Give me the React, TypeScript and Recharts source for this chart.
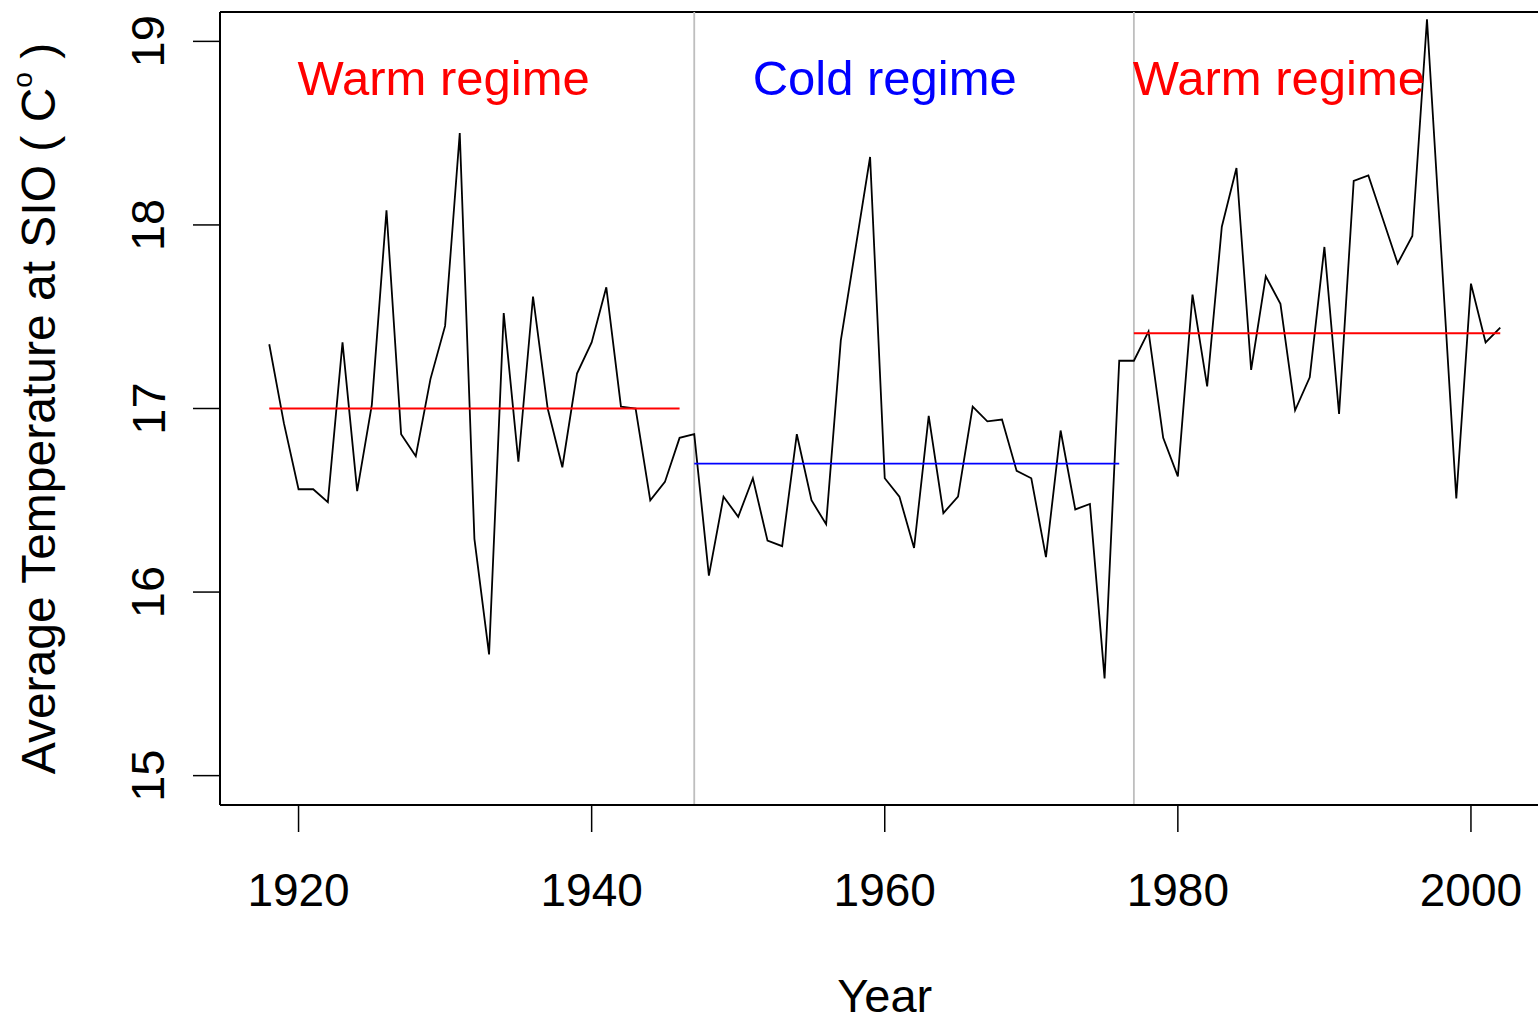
import React from 'react';
import { LineChart, Line, XAxis, YAxis, ReferenceLine, ReferenceDot, Label } from 'recharts';

const years = [
  1918, 1919, 1920, 1921, 1922, 1923, 1924, 1925, 1926, 1927, 1928, 1929, 1930, 1931, 1932, 1933, 1934,
  1935, 1936, 1937, 1938, 1939, 1940, 1941, 1942, 1943, 1944, 1945, 1946, 1947, 1948, 1949, 1950, 1951,
  1952, 1953, 1954, 1955, 1956, 1957, 1958, 1959, 1960, 1961, 1962, 1963, 1964, 1965, 1966, 1967, 1968,
  1969, 1970, 1971, 1972, 1973, 1974, 1975, 1976, 1977, 1978, 1979, 1980, 1981, 1982, 1983, 1984, 1985,
  1986, 1987, 1988, 1989, 1990, 1991, 1992, 1993, 1994, 1995, 1996, 1997, 1998, 1999, 2000, 2001, 2002,
];

const temps = [
  17.35, 16.92, 16.56, 16.56, 16.49, 17.36, 16.55, 17.02, 18.08, 16.86, 16.74, 17.16, 17.45, 18.5, 16.29, 15.66, 17.52,
  16.71, 17.61, 17.0, 16.68, 17.19, 17.36, 17.66, 17.01, 17.0, 16.5, 16.6, 16.84, 16.86, 16.09, 16.52, 16.41, 16.62,
  16.28, 16.25, 16.86, 16.5, 16.37, 17.37, 17.87, 18.37, 16.62, 16.52, 16.24, 16.96, 16.43, 16.52, 17.01, 16.93, 16.94,
  16.66, 16.62, 16.19, 16.88, 16.45, 16.48, 15.53, 17.26, 17.26, 17.42, 16.84, 16.63, 17.62, 17.12, 17.99, 18.31, 17.21,
  17.72, 17.57, 16.99, 17.17, 17.88, 16.97, 18.24, 18.27, 18.03, 17.79, 17.94, 19.12, 17.82, 16.51, 17.68, 17.36, 17.44,
];

const xTicks = [1920, 1940, 1960, 1980, 2000];
const yTicks = [15, 16, 17, 18, 19];

const regimeNames = ['Warm regime', 'Cold regime', 'Warm regime'];
const regimeColors = ['#FF0000', '#0000FF', '#FF0000'];
const regimeStart = [1918, 1947, 1977];
const regimeEnd = [1946, 1976, 2002];
const regimeMean = [17.0, 16.7, 17.41];
const regimeLabelX = [1929.9, 1960, 1986.9];
const regimeLabelY = 18.8;
const breakYears = [1947, 1977];

const X_DOMAIN: [number, number] = [1914.64, 2005.36];
const Y_DOMAIN: [number, number] = [14.84, 19.16];

const FONT = '"Liberation Sans", Arial, Helvetica, sans-serif';

const data = years.map((y, i) => ({ year: y, temp: temps[i] }));

const XTick = (props: any) => {
  const { x, y, payload } = props;
  return (
    <text x={x} y={y + 58} textAnchor="middle" dominantBaseline="central" fontSize={46} fontFamily={FONT} fill="#000">
      {payload.value}
    </text>
  );
};

const YTick = (props: any) => {
  const { x, y, payload } = props;
  const cx = x - 45;
  return (
    <text
      x={cx}
      y={y}
      transform={`rotate(-90 ${cx} ${y})`}
      textAnchor="middle"
      dominantBaseline="central"
      fontSize={47}
      fontFamily={FONT}
      fill="#000"
    >
      {payload.value}
    </text>
  );
};

const YearLabel = (props: any) => {
  const vb = props.viewBox || { x: 220, y: 805, width: 1329, height: 213 };
  return (
    <text x={vb.x + vb.width / 2} y={vb.y + 207} textAnchor="middle" fontSize={47} fontFamily={FONT} fill="#000">
      Year
    </text>
  );
};

const TempLabel = (props: any) => {
  const vb = props.viewBox || { x: 0, y: 12, width: 220, height: 793 };
  const cx = vb.x + 38;
  const cy = vb.y + vb.height / 2;
  return (
    <text
      x={cx}
      y={cy}
      transform={`rotate(-90 ${cx} ${cy})`}
      textAnchor="middle"
      dominantBaseline="central"
      fontSize={48}
      fontFamily={FONT}
      fill="#000"
    >
      Average Temperature at SIO ( C
      <tspan dy={-16} fontSize={28}>o</tspan>
      <tspan dy={16}> )</tspan>
    </text>
  );
};

export default function App() {
  return (
    <div
      style={{
        position: 'fixed',
        left: 0,
        top: 0,
        width: 1538,
        height: 1018,
        overflow: 'hidden',
        background: '#fff',
      }}
    >
      <LineChart width={1560} height={1018} data={data} margin={{ top: 12, right: 10.5, bottom: 0, left: 0 }}>
        <XAxis
          dataKey="year"
          type="number"
          domain={X_DOMAIN}
          ticks={xTicks}
          interval={0}
          allowDataOverflow
          height={213}
          tickSize={27}
          tickMargin={0}
          tickLine={{ stroke: '#000', strokeWidth: 1.5 }}
          axisLine={{ stroke: '#000', strokeWidth: 2 }}
          tick={<XTick />}
        >
          <Label content={YearLabel} />
        </XAxis>
        <YAxis
          type="number"
          domain={Y_DOMAIN}
          ticks={yTicks}
          interval={0}
          allowDataOverflow
          width={220}
          tickSize={27}
          tickMargin={0}
          tickLine={{ stroke: '#000', strokeWidth: 1.5 }}
          axisLine={{ stroke: '#000', strokeWidth: 2 }}
          tick={<YTick />}
        >
          <Label content={TempLabel} />
        </YAxis>
        <ReferenceLine y={Y_DOMAIN[1]} stroke="#000" strokeWidth={2} />
        <ReferenceLine x={X_DOMAIN[1]} stroke="#000" strokeWidth={2} />
        {breakYears.map((b) => (
          <ReferenceLine key={'b' + b} x={b} stroke="#BEBEBE" strokeWidth={1.8} />
        ))}
        <Line
          type="linear"
          dataKey="temp"
          stroke="#000"
          strokeWidth={1.8}
          dot={false}
          activeDot={false}
          isAnimationActive={false}
        />
        {regimeNames.map((n, i) => (
          <ReferenceLine
            key={'m' + i}
            segment={[
              { x: regimeStart[i], y: regimeMean[i] },
              { x: regimeEnd[i], y: regimeMean[i] },
            ]}
            stroke={regimeColors[i]}
            strokeWidth={1.8}
            ifOverflow="visible"
          />
        ))}
        {regimeNames.map((n, i) => (
          <ReferenceDot
            key={'t' + i}
            x={regimeLabelX[i]}
            y={regimeLabelY}
            r={0}
            ifOverflow="visible"
            shape={(p: any) => (
              <text
                x={p.cx}
                y={p.cy}
                textAnchor="middle"
                dominantBaseline="central"
                fill={regimeColors[i]}
                fontSize={49}
                fontFamily={FONT}
              >
                {n}
              </text>
            )}
          />
        ))}
      </LineChart>
    </div>
  );
}
